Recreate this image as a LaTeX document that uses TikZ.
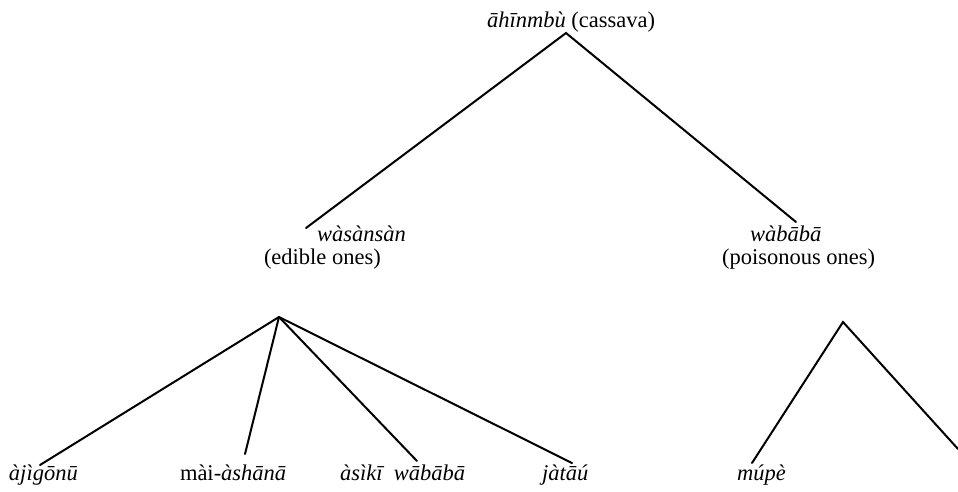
\documentclass[tikz,border=0pt]{standalone}
\usepackage{fontspec}
\setmainfont{Liberation Serif}
\begin{document}
\begin{tikzpicture}[x=1pt,y=-1pt,
  lbl/.style={anchor=base west,inner sep=0pt,outer sep=0pt,font=\fontsize{22.5}{26}\selectfont},
  branch/.style={line width=2pt,line cap=round,black}]
\useasboundingbox (0,0) rectangle (958,491);
% labels
\node[lbl] (root) at (487,27) {\textit{āhīnmbù} (cassava)};
\node[lbl] (was) at (317,241) {\textit{wàsànsàn}};
\node[lbl] (edible) at (264,264) {(edible ones)};
\node[lbl] (wab) at (750,241) {\textit{wàbābā}};
\node[lbl] (pois) at (722,264) {(poisonous ones)};
\node[lbl] (aji) at (9,480) {\textit{àjìgōnū}};
\node[lbl] (mai) at (180,480) {mài-\textit{àshānā}};
\node[lbl] (asi) at (340,480) {\textit{àsìkī\ \ wābābā}};
\node[lbl] (jat) at (542,480) {\textit{jàtāú}};
\node[lbl] (mup) at (737,480) {\textit{múpè}};
% branch points
\coordinate (A) at (566,33);
\coordinate (L1) at (306,228);
\coordinate (R1) at (796,222);
\coordinate (B) at (279,317);
\coordinate (b1) at (40,465);
\coordinate (b2) at (245,454);
\coordinate (b3) at (417,461);
\coordinate (b4) at (572,463);
\coordinate (C) at (843,322);
\coordinate (c1) at (752,463);
\coordinate (c2) at (958,449);
% connectors
\draw[branch] (L1) -- (A) -- (R1);
\draw[branch] (B) -- (b1);
\draw[branch] (B) -- (b2);
\draw[branch] (B) -- (b3);
\draw[branch] (B) -- (b4);
\draw[branch] (c1) -- (C) -- (c2);
\end{tikzpicture}
\end{document}
